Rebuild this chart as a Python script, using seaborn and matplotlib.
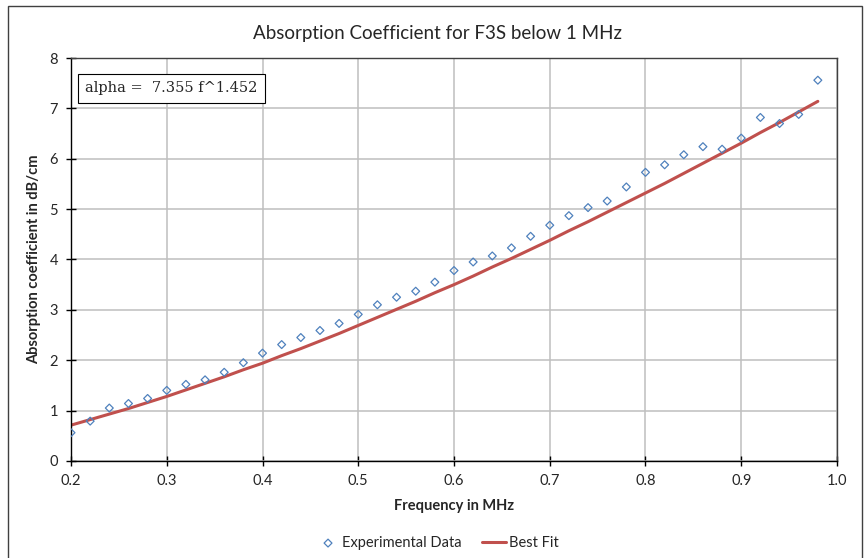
import numpy as np
import pandas as pd
import matplotlib
matplotlib.use("Agg")
import matplotlib.pyplot as plt
from matplotlib.patches import Rectangle
import seaborn as sns

# measured absorption (dB/cm) vs frequency (MHz)
freq = [0.20, 0.22, 0.24, 0.26, 0.28, 0.30, 0.32, 0.34, 0.36, 0.38,
        0.40, 0.42, 0.44, 0.46, 0.48, 0.50, 0.52, 0.54, 0.56, 0.58,
        0.60, 0.62, 0.64, 0.66, 0.68, 0.70, 0.72, 0.74, 0.76, 0.78,
        0.80, 0.82, 0.84, 0.86, 0.88, 0.90, 0.92, 0.94, 0.96, 0.98]
measured = [0.56, 0.79, 1.05, 1.14, 1.24, 1.40, 1.52, 1.61, 1.76, 1.95,
            2.14, 2.31, 2.45, 2.59, 2.73, 2.91, 3.10, 3.25, 3.37, 3.55,
            3.78, 3.95, 4.07, 4.23, 4.46, 4.68, 4.87, 5.03, 5.16, 5.44,
            5.73, 5.88, 6.08, 6.24, 6.19, 6.41, 6.82, 6.70, 6.88, 7.56]
# best fit curve values read at the same frequencies
fit = [0.71, 0.82, 0.93, 1.04, 1.16, 1.28, 1.41, 1.54, 1.67, 1.81,
       1.94, 2.09, 2.23, 2.38, 2.53, 2.69, 2.85, 3.01, 3.17, 3.34,
       3.50, 3.67, 3.85, 4.02, 4.20, 4.38, 4.57, 4.75, 4.94, 5.13,
       5.32, 5.51, 5.71, 5.91, 6.11, 6.31, 6.52, 6.72, 6.93, 7.14]

x_ticks = [0.2, 0.3, 0.4, 0.5, 0.6, 0.7, 0.8, 0.9, 1.0]
y_ticks = [0, 1, 2, 3, 4, 5, 6, 7, 8]

df = pd.DataFrame({"freq": freq, "measured": measured, "fit": fit})

sns.set_style("white")
plt.rcParams["font.family"] = ["Lato", "DejaVu Sans"]

fig = plt.figure(figsize=(8.66, 5.58), dpi=100)
ax = fig.add_axes([0.082, 0.174, 0.8845, 0.722])

sns.scatterplot(data=df, x="freq", y="measured", ax=ax, marker="D", s=16,
                facecolor="none", edgecolor="#4F81BD", linewidth=0.9,
                label="Experimental Data", zorder=3)
sns.lineplot(data=df, x="freq", y="fit", ax=ax, color="#C0504D", linewidth=2.2,
             label="Best Fit", zorder=2)

ax.set_xlim(0.2, 1.0)
ax.set_ylim(0, 8)
ax.set_xticks(x_ticks)
ax.set_xticklabels([f"{t:.1f}" for t in x_ticks])
ax.set_yticks(y_ticks)
ax.grid(True, color="#BFBFBF", linewidth=1.1)
ax.set_axisbelow(True)
for side in ["top", "right"]:
    ax.spines[side].set_color("#404040")
    ax.spines[side].set_linewidth(1.0)
for side in ["left", "bottom"]:
    ax.spines[side].set_color("black")
    ax.spines[side].set_linewidth(1.0)
ax.tick_params(axis="both", direction="inout", length=7, width=1,
               color="black", labelsize=10.5, bottom=True, left=True, pad=6)

ax.set_xlabel("Frequency in MHz", fontsize=10.5, fontweight="bold", labelpad=8)
ax.set_ylabel("Absorption coefficient in dB/cm", fontsize=10.5, fontweight="bold", labelpad=6)
fig.text(437 / 866, 1 - 33 / 558, "Absorption Coefficient for F3S below 1 MHz",
         fontsize=13.5, ha="center", va="center")

ax.text(0.2146, 7.40, "alpha =  7.355 f^1.452", fontsize=10.5, family="DejaVu Serif",
        va="center", ha="left",
        bbox=dict(boxstyle="square,pad=0.5", facecolor="white", edgecolor="black", linewidth=0.8))

ax.legend(loc="center", bbox_to_anchor=(0.478, -0.2035), ncol=2, frameon=False,
          fontsize=10.5, handlelength=1.65, handletextpad=0.15, columnspacing=1.4)

fig.patches.append(Rectangle((8 / 866, -0.01), 854 / 866, 1 - 6 / 558 + 0.01,
                             transform=fig.transFigure, fill=False,
                             edgecolor="#404040", linewidth=1))

fig.savefig("out.png", dpi=100)
